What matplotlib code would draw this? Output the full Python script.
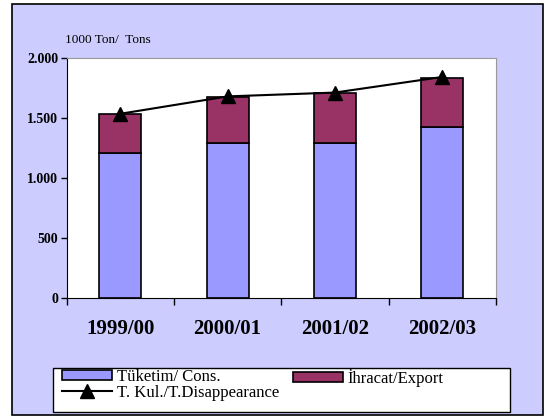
import matplotlib.pyplot as plt
import numpy as np
from matplotlib.patches import Rectangle
from matplotlib.lines import Line2D

years = ['1999/00', '2000/01', '2001/02', '2002/03']
tuketim = [1206, 1289, 1290, 1422]
ihracat = [325, 386, 421, 414]
toplam = [1535, 1680, 1712, 1842]

plt.rcParams['font.family'] = ['Liberation Serif', 'DejaVu Serif']

fig = plt.figure(figsize=(5.45, 4.16), dpi=100)
fig.patch.set_facecolor('white')

# lavender chart area with black frame
fig.patches.append(Rectangle((12/545, 1/416), 531/545, 411/416, transform=fig.transFigure,
                             facecolor='#CCCCFF', edgecolor='black', linewidth=1.2, zorder=0))
# legend box
fig.patches.append(Rectangle((53/545, 4/416), (510-53)/545, 44/416, transform=fig.transFigure,
                             facecolor='white', edgecolor='black', linewidth=1.0, zorder=0.5))

ax = fig.add_axes([66.5/545, (416-298)/416, (496-66.5)/545, 240/416])
ax.set_zorder(2)
ax.set_facecolor('white')

x = np.arange(len(years))
w = 0.39
ax.bar(x, tuketim, w, color='#9999FF', edgecolor='black', linewidth=1.2, zorder=2)
ax.bar(x, ihracat, w, bottom=tuketim, color='#993366', edgecolor='black', linewidth=1.2, zorder=2)
ax.plot(x, toplam, color='black', marker='^', markersize=10, linewidth=1.5, zorder=3)

ax.set_xlim(-0.5, len(years) - 0.5)
ax.set_ylim(0, 2000)
ax.set_yticks([0, 500, 1000, 1500, 2000])
ax.set_yticklabels(['0', '500', '1.000', '1.500', '2.000'], fontsize=10, fontweight='bold')
ax.set_xticks(np.arange(-0.5, len(years), 1.0))
ax.set_xticklabels([])
ax.tick_params(axis='y', direction='out', length=4, width=1, pad=2)
ax.tick_params(axis='x', direction='out', length=5, width=1)
for i, yr in enumerate(years):
    ax.text(i, -255, yr, ha='center', va='center', fontsize=15, fontweight='bold', clip_on=False)

ax.spines['left'].set_color('black')
ax.spines['bottom'].set_color('black')
ax.spines['top'].set_color('#999999')
ax.spines['right'].set_color('#999999')

fig.text(65/545, 1 - 40/416, '1000 Ton/  Tons', fontsize=9.5, ha='left', va='center')

h1 = Rectangle((0, 0), 1, 1, facecolor='#9999FF', edgecolor='black', linewidth=1.2)
h2 = Line2D([], [], color='black', marker='^', markersize=10, linewidth=1.5)
h3 = Rectangle((0, 0), 1, 1, facecolor='#993366', edgecolor='black', linewidth=1.2)
leg1 = fig.legend([h1, h2], ['Tüketim/ Cons.', 'T. Kul./T.Disappearance'],
                  loc='upper left', bbox_to_anchor=(60/545, 1 - 367/416), fontsize=12,
                  frameon=False, borderpad=0.1, labelspacing=0.0, handlelength=3.0,
                  handleheight=0.5, handletextpad=0.3, borderaxespad=0)
leg2 = fig.legend([h3], ['İhracat/Export'],
                  loc='upper left', bbox_to_anchor=(291/545, 1 - 367/416), fontsize=12,
                  frameon=False, borderpad=0.1, labelspacing=0.0, handlelength=3.0,
                  handleheight=0.5, handletextpad=0.3, borderaxespad=0)

fig.savefig('out.png', dpi=100, facecolor=fig.get_facecolor())
